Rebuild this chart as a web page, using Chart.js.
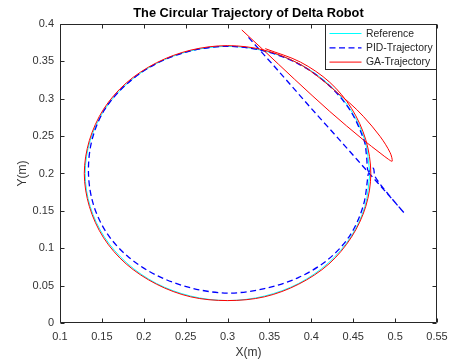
<!DOCTYPE html>
<html>
<head>
<meta charset="utf-8">
<script src="https://cdn.jsdelivr.net/npm/chart.js@4/dist/chart.umd.min.js"></script>
<style>
  body { margin: 0; background: #fff; }
</style>
</head>
<body>
<canvas id="myChart" width="450" height="363"></canvas>
<script>
console.log("start");
const ctx = document.getElementById('myChart');

//axis ticks
const xTicks = [0.1, 0.15, 0.2, 0.25, 0.3, 0.35, 0.4, 0.45, 0.5, 0.55];
const xTickLabels = ['0.1', '0.15', '0.2', '0.25', '0.3', '0.35', '0.4', '0.45', '0.5', '0.55'];
const yTicks = [0, 0.05, 0.1, 0.15, 0.2, 0.25, 0.3, 0.35, 0.4];
const yTickLabels = ['0', '0.05', '0.1', '0.15', '0.2', '0.25', '0.3', '0.35', '0.4'];

//reference circle
const refX = [0.470, 0.464, 0.447, 0.420, 0.385, 0.344, 0.300, 0.256, 0.215, 0.180, 0.153, 0.136, 0.130,
              0.136, 0.153, 0.180, 0.215, 0.256, 0.300, 0.344, 0.385, 0.420, 0.447, 0.464, 0.470];
const refY = [0.200, 0.244, 0.285, 0.320, 0.347, 0.364, 0.370, 0.364, 0.347, 0.320, 0.285, 0.244, 0.200,
              0.156, 0.115, 0.080, 0.053, 0.036, 0.030, 0.036, 0.053, 0.080, 0.115, 0.156, 0.200];

//PID
const pidX = [0.325, 0.360, 0.400, 0.440, 0.470, 0.490, 0.511, 0.492, 0.476, 0.474, 0.468, 0.466,
              0.463, 0.446, 0.419, 0.384, 0.343, 0.300, 0.256, 0.215, 0.180, 0.153, 0.138, 0.134,
              0.140, 0.156, 0.182, 0.215, 0.256, 0.300, 0.344, 0.385, 0.420, 0.446, 0.462, 0.468];
const pidY = [0.382, 0.338, 0.287, 0.237, 0.199, 0.174, 0.147, 0.172, 0.196, 0.207, 0.203, 0.222,
              0.244, 0.285, 0.320, 0.347, 0.364, 0.370, 0.364, 0.347, 0.320, 0.285, 0.244, 0.200,
              0.158, 0.120, 0.088, 0.064, 0.047, 0.040, 0.046, 0.061, 0.085, 0.117, 0.157, 0.200];

//GA
const gaX = [0.317, 0.342, 0.380, 0.422, 0.462, 0.482, 0.492, 0.4965, 0.494, 0.482, 0.462, 0.446,
             0.430, 0.412, 0.385, 0.344, 0.300, 0.256, 0.215, 0.179, 0.152, 0.135, 0.129, 0.135,
             0.152, 0.179, 0.215, 0.256, 0.300, 0.344, 0.385, 0.421, 0.448, 0.465, 0.471, 0.465,
             0.448, 0.422, 0.387, 0.345];
const gaY = [0.392, 0.366, 0.326, 0.283, 0.245, 0.2275, 0.219, 0.2165, 0.228, 0.2497, 0.2765, 0.294,
             0.309, 0.326, 0.347, 0.365, 0.371, 0.365, 0.348, 0.321, 0.286, 0.244, 0.200, 0.156,
             0.114, 0.079, 0.052, 0.035, 0.030, 0.035, 0.052, 0.079, 0.115, 0.156, 0.200, 0.245,
             0.287, 0.322, 0.349, 0.367];

const FONT = "'Liberation Sans', Arial, Helvetica, sans-serif";
const AXIS_COLOR = '#262626';

function toPoints(xs, ys) {
	return xs.map((x, i) => ({ x: x, y: ys[i] }));
}

//box + inward ticks on all four sides, then the legend
const boxPlugin = {
	id: 'boxPlugin',
	afterDraw(chart) {
		const c = chart.ctx;
		const a = chart.chartArea;
		const xs = chart.scales.x, ys = chart.scales.y;
		const L = Math.round(a.left) + 0.5, R = Math.round(a.right) - 0.5;
		const T = Math.round(a.top) + 0.5, B = Math.round(a.bottom) - 0.5;
		const tl = 4;
		c.save();
		c.strokeStyle = AXIS_COLOR;
		c.lineWidth = 1;
		c.beginPath();
		c.rect(L, T, R - L, B - T);
		xTicks.forEach(v => {
			const px = Math.round(xs.getPixelForValue(v)) + 0.5;
			c.moveTo(px, B); c.lineTo(px, B - tl);
			c.moveTo(px, T); c.lineTo(px, T + tl);
		});
		yTicks.forEach(v => {
			const py = Math.round(ys.getPixelForValue(v)) + 0.5;
			c.moveTo(L, py); c.lineTo(L + tl, py);
			c.moveTo(R, py); c.lineTo(R - tl, py);
		});
		c.stroke();

		//legend
		const bw = 111, bh = 45;
		const bx = R - bw, by = T;
		c.fillStyle = '#fff';
		c.fillRect(bx, by, bw, bh);
		c.strokeStyle = AXIS_COLOR;
		c.strokeRect(bx, by, bw, bh);
		c.font = '10.4px ' + FONT;
		c.textBaseline = 'middle';
		c.textAlign = 'left';
		chart.data.datasets.forEach((ds, i) => {
			const yy = by + 9 + i * 14.3;
			c.strokeStyle = ds.borderColor;
			c.lineWidth = ds.borderWidth;
			c.setLineDash(ds.borderDash || []);
			c.beginPath();
			c.moveTo(bx + 4, yy);
			c.lineTo(bx + 36, yy);
			c.stroke();
			c.setLineDash([]);
			c.fillStyle = '#262626';
			c.fillText(ds.label, bx + 40.5, yy + 0.5);
		});
		c.restore();
	}
};

new Chart(ctx, {
	type: 'scatter',
	data: {
		datasets: [
			{
				label: 'Reference',
				data: toPoints(refX, refY),
				showLine: true,
				borderColor: '#00ffff',
				borderWidth: 1,
				pointRadius: 0,
				tension: 0.33,
				order: 3
			},
			{
				label: 'PID-Trajectory',
				data: toPoints(pidX, pidY),
				showLine: true,
				borderColor: '#0000ff',
				borderWidth: 1.3,
				borderDash: [6, 3.5],
				pointRadius: 0,
				tension: 0.33,
				order: 2
			},
			{
				label: 'GA-Trajectory',
				data: toPoints(gaX, gaY),
				showLine: true,
				borderColor: '#ff0000',
				borderWidth: 1,
				pointRadius: 0,
				tension: 0.33,
				order: 1
			}
		]
	},
	options: {
		responsive: false,
		animation: false,
		layout: { padding: { left: 0, right: 13, top: 0, bottom: 0 } },
		plugins: {
			legend: { display: false },
			tooltip: { enabled: false },
			title: {
				display: true,
				text: 'The Circular Trajectory of Delta Robot',
				fullSize: false,
				color: '#000',
				font: { family: FONT, size: 12.8, weight: 'bold' },
				padding: { top: 6, bottom: 2.6 }
			}
		},
		scales: {
			x: {
				type: 'linear',
				min: 0.1,
				max: 0.55,
				afterBuildTicks: s => { s.ticks = xTicks.map(v => ({ value: v })); },
				afterFit: s => { s.height = 40; s.paddingLeft = 0; s.paddingRight = 0; },
				grid: { display: false, drawTicks: false },
				border: { display: false },
				ticks: {
					padding: 7,
					color: '#333',
					font: { family: FONT, size: 11 },
					maxRotation: 0,
					callback: (v, i) => xTickLabels[i]
				},
				title: {
					display: true,
					text: 'X(m)',
					color: '#333',
					font: { family: FONT, size: 12 },
					padding: { top: 0, bottom: 3 }
				}
			},
			y: {
				type: 'linear',
				min: 0,
				max: 0.4,
				afterBuildTicks: s => { s.ticks = yTicks.map(v => ({ value: v })); },
				afterFit: s => { s.width = 60; s.paddingTop = 0; s.paddingBottom = 0; },
				grid: { display: false, drawTicks: false },
				border: { display: false },
				ticks: {
					padding: 6,
					color: '#333',
					font: { family: FONT, size: 11 },
					callback: (v, i) => yTickLabels[i]
				},
				title: {
					display: true,
					text: 'Y(m)',
					color: '#333',
					font: { family: FONT, size: 12 },
					padding: { top: 15, bottom: 0 }
				}
			}
		}
	},
	plugins: [boxPlugin]
});
</script>
</body>
</html>
